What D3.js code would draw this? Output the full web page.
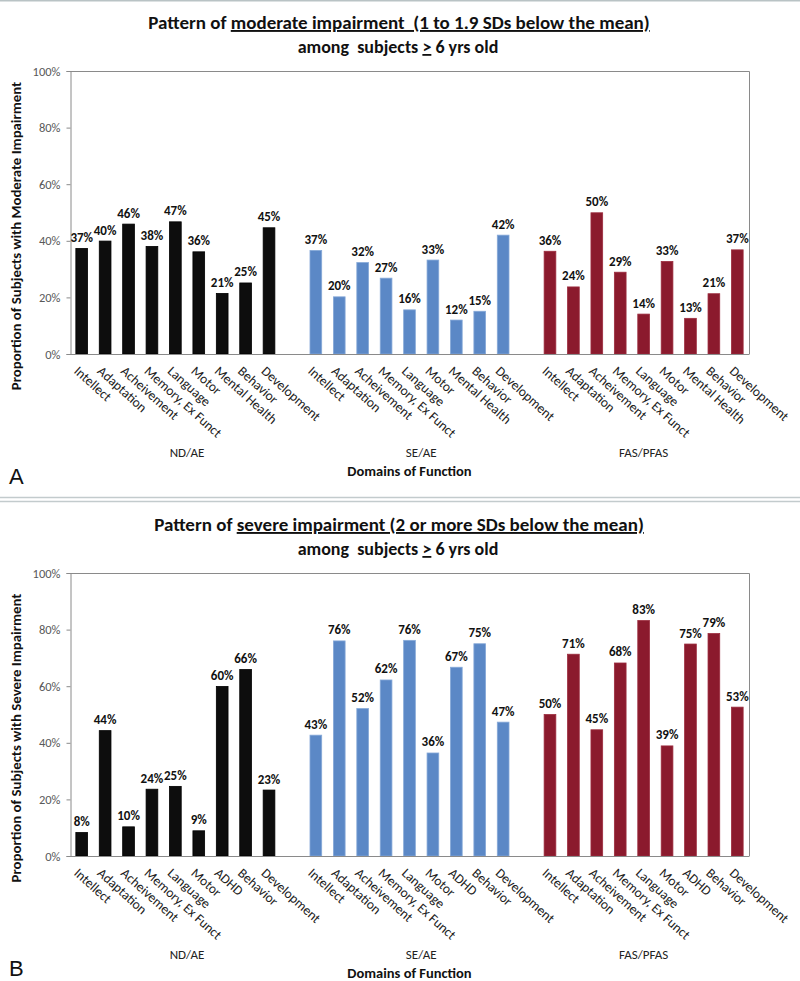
<!DOCTYPE html>
<html>
<head>
<meta charset="utf-8">
<script src="https://cdn.jsdelivr.net/npm/d3@7/dist/d3.min.js"></script>
<style>
  html, body { margin: 0; padding: 0; background: #fff; }
  svg { display: block; font-family: Carlito, Lato, "Open Sans", sans-serif; }
</style>
</head>
<body>
<svg id="chart" width="800" height="981"></svg>
<script>
// ---------------- data ----------------
const groups = ["ND/AE", "SE/AE", "FAS/PFAS"];
const domainsModerate = ["Intellect", "Adaptation", "Acheivement", "Memory, Ex Funct", "Language", "Motor", "Mental Health", "Behavior", "Development"];
const domainsSevere = ["Intellect", "Adaptation", "Acheivement", "Memory, Ex Funct", "Language", "Motor", "ADHD", "Behavior", "Development"];

// proportions (%) of subjects with moderate impairment
const moderateND  = [37.3, 39.9, 45.9, 38.0, 46.7, 36.1, 21.4, 25.1, 44.6];
const moderateSE  = [36.6, 20.2, 32.3, 26.8, 15.6, 33.2, 12.0, 15.1, 42.0];
const moderateFAS = [36.3, 23.7, 49.9, 28.9, 14.1, 32.7, 12.6, 21.3, 36.8];

// proportions (%) of subjects with severe impairment
const severeND  = [8.3, 44.3, 10.3, 23.6, 24.6, 8.9, 59.9, 65.9, 23.3];
const severeSE  = [42.7, 76.0, 52.1, 62.2, 76.2, 36.4, 66.7, 75.0, 47.3];
const severeFAS = [50.0, 71.3, 44.6, 68.2, 83.2, 38.9, 74.9, 78.6, 52.6];

const yTickValues = [0, 20, 40, 60, 80, 100];
const groupColors = ["#0d0d0d", "#5b88c6", "#8b1a2d"];
const groupStrokes = ["#000000", "#86a9d8", "#9c2c3e"];

// ---------------- layout ----------------
const svg = d3.select("#chart");
const plotLeft = 70, plotRight = 749, plotH = 283;

// separators
svg.append("line").attr("x1", 0).attr("x2", 800).attr("y1", 0.5).attr("y2", 0.5)
  .attr("stroke", "#b9c3c5").attr("stroke-width", 2);
svg.append("line").attr("x1", 0).attr("x2", 800).attr("y1", 497.5).attr("y2", 497.5)
  .attr("stroke", "#c3cbcd").attr("stroke-width", 1.5);
svg.append("line").attr("x1", 0).attr("x2", 800).attr("y1", 501.5).attr("y2", 501.5)
  .attr("stroke", "#c3cbcd").attr("stroke-width", 1.5);

function panel(opts) {
  const g = svg.append("g");
  const top = opts.top, bottom = top + plotH;

  // slot domain: 9 bars per group, one empty slot between groups
  const slots = [];
  groups.forEach((grp, gi) => {
    opts.domains.forEach((d, i) => slots.push(gi + "|" + i));
    if (gi < groups.length - 1) slots.push("gap" + gi);
  });
  const x = d3.scaleBand().domain(slots).range([plotLeft, plotRight])
    .paddingInner(0.5).paddingOuter(0.25);
  const y = d3.scaleLinear().domain([0, 100]).range([bottom, top]);

  // title
  const t1 = g.append("text").attr("x", 399).attr("y", top - 42)
    .attr("text-anchor", "middle").attr("font-weight", "bold").attr("font-size", 19).attr("fill", "#111")
    .attr("xml:space", "preserve");
  t1.append("tspan").text("Pattern of ");
  t1.append("tspan").attr("text-decoration", "underline").text(opts.titleUnderlined);
  const t2 = g.append("text").attr("x", 398).attr("y", top - 18)
    .attr("text-anchor", "middle").attr("font-weight", "bold").attr("font-size", 18).attr("fill", "#111")
    .attr("xml:space", "preserve");
  t2.append("tspan").text("among  subjects ");
  t2.append("tspan").attr("text-decoration", "underline").text(">");
  t2.append("tspan").text(" 6 yrs old");

  // plot frame (top + right)
  g.append("path")
    .attr("d", `M${plotLeft},${top + 0.5}H${plotRight + 0.5}V${bottom}`)
    .attr("fill", "none").attr("stroke", "#8a8a8a").attr("stroke-width", 1);

  // y axis
  const yAxis = d3.axisLeft(y).tickValues(yTickValues).tickSize(4).tickPadding(6)
    .tickFormat(d => d + "%");
  const ya = g.append("g").attr("transform", `translate(${plotLeft + 0.5},0)`).call(yAxis);
  ya.select(".domain").attr("stroke", "#8a8a8a");
  ya.selectAll(".tick line").attr("stroke", "#8a8a8a");
  ya.selectAll(".tick text").attr("font-family", "Carlito, Lato, sans-serif").attr("font-size", 12.5).attr("fill", "#595959");

  // bars
  const all = [];
  groups.forEach((grp, gi) => {
    opts.values[gi].forEach((v, i) => all.push({ key: gi + "|" + i, gi, i, v }));
  });
  g.selectAll("rect.bar").data(all).enter().append("rect")
    .attr("class", "bar")
    .attr("x", d => x(d.key))
    .attr("width", x.bandwidth())
    .attr("y", d => y(d.v))
    .attr("height", d => y(0) - y(d.v))
    .attr("fill", d => groupColors[d.gi])
    .attr("stroke", d => groupStrokes[d.gi])
    .attr("stroke-width", 0.8);

  // value labels
  g.selectAll("text.val").data(all).enter().append("text")
    .attr("class", "val")
    .attr("x", d => x(d.key) + x.bandwidth() / 2)
    .attr("y", d => y(d.v) - 6.5)
    .attr("text-anchor", "middle").attr("font-weight", "bold").attr("font-size", 13).attr("fill", "#111")
    .text(d => Math.round(d.v) + "%");

  // x axis line
  g.append("line").attr("x1", plotLeft).attr("x2", plotRight + 0.5)
    .attr("y1", y(0) + 0.5).attr("y2", y(0) + 0.5).attr("stroke", "#8a8a8a");

  // category labels, rotated
  g.selectAll("text.cat").data(all).enter().append("text")
    .attr("class", "cat")
    .attr("transform", d => `translate(${x(d.key) + x.bandwidth() / 2 - 2},${bottom + 11}) rotate(42)`)
    .attr("dy", "0.72em")
    .attr("text-anchor", "start").attr("font-size", 13.5).attr("fill", "#222")
    .text(d => opts.domains[d.i]);

  // group labels (center of group slots incl. trailing empty slot)
  groups.forEach((grp, gi) => {
    const first = x(gi + "|0");
    const lastKey = gi < groups.length - 1 ? "gap" + gi : gi + "|" + (opts.domains.length - 1);
    const last = x(lastKey) + x.bandwidth();
    g.append("text").attr("x", (first + last) / 2).attr("y", bottom + 103)
      .attr("text-anchor", "middle").attr("font-size", 13).attr("fill", "#222").text(grp);
  });

  // x axis title
  g.append("text").attr("x", (plotLeft + plotRight) / 2).attr("y", bottom + 122)
    .attr("text-anchor", "middle").attr("font-weight", "bold").attr("font-size", 14.5).attr("fill", "#111")
    .text("Domains of Function");

  // y axis title
  g.append("text").attr("transform", `translate(21,${top + 165}) rotate(-90)`)
    .attr("text-anchor", "middle").attr("font-weight", "bold").attr("font-size", 14.8).attr("fill", "#111")
    .text(opts.yTitle);

  // panel letter
  g.append("text").attr("x", 9).attr("y", opts.letterY)
    .attr("font-family", "Liberation Sans, Arial, sans-serif").attr("font-size", 22).attr("fill", "#111")
    .text(opts.letter);
}

panel({
  top: 71,
  titleUnderlined: "moderate impairment  (1 to 1.9 SDs below the mean)",
  domains: domainsModerate,
  values: [moderateND, moderateSE, moderateFAS],
  yTitle: "Proportion of Subjects with Moderate Impairment",
  letter: "A", letterY: 484
});
panel({
  top: 573,
  titleUnderlined: "severe impairment (2 or more SDs below the mean)",
  domains: domainsSevere,
  values: [severeND, severeSE, severeFAS],
  yTitle: "Proportion of Subjects with Severe Impairment",
  letter: "B", letterY: 976
});
</script>
</body>
</html>
